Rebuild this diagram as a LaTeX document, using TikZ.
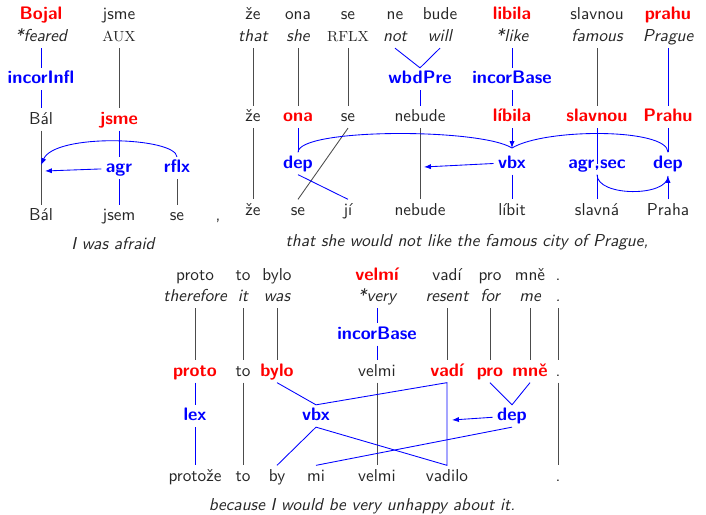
\documentclass[tikz,border=0pt]{standalone}
\usepackage{tikz}
\usetikzlibrary{arrows.meta, calc}

\begin{document}
\begin{tikzpicture}[x=0.58pt, y=-0.58pt, font=\sffamily,
  every node/.style={inner sep=2.5pt, text height=1.5ex, text depth=.25ex},
  wd/.style={text=black!85},
  hd/.style={text=red, font=\fontsize{10.5}{12}\selectfont\sffamily\bfseries},
  gl/.style={text=black!85, font=\sffamily\itshape},
  sc/.style={text=black!85, font=\fontsize{8.5}{10}\selectfont\rmfamily},
  rel/.style={text=blue, font=\fontsize{10.5}{12}\selectfont\sffamily\bfseries},
  ln/.style={draw=black!70, line width=0.5pt},
  bl/.style={draw=blue, line width=0.5pt},
  arr/.style={bl, -{Latex[length=4pt, width=3pt]}}]

\useasboundingbox (0,0) rectangle (706,515);

% Row heights, first sentence
\def\ya{14.5}   % words
\def\yb{37}     % glosses
\def\yc{79}     % incorporation
\def\yd{117}    % base forms
\def\ye{163.5}  % relations
\def\yf{210.5}  % surface forms
\def\yg{242}    % translation
% left block sits a little lower
\def\ydl{119.5}
\def\yel{168}
\def\yfl{216}

% Row heights, second sentence
\def\yA{276}
\def\yB{297}
\def\yC{334.5}
\def\yD{371.5}
\def\yE{416}
\def\yF{476.5}
\def\yG{505.5}

% Bojal jsme
\node[hd] (bojal) at (41,\ya) {Bojal};
\node[gl] (feared) at (41,\yb) {*feared};
\node[rel] (incorInfl) at (41,\yc) {incorInfl};
\node[wd] (bal) at (41,\ydl) {Bál};
\node[wd] (balS) at (41,\yfl) {Bál};
\node[wd] (jsme) at (119,\ya) {jsme};
\node[sc] (aux) at (119,\yb) {AUX};
\node[hd] (jsmeD) at (119,\ydl) {jsme};
\node[rel] (agr) at (119,\yel) {agr};
\node[wd] (jsem) at (119,\yfl) {jsem};
\node[rel] (rflx) at (177,\yel) {rflx};
\node[wd] (seA) at (177,\yfl) {se};
\node[wd] (comma) at (218,\yfl) {,};
\node[gl] (tr1) at (113,245) {I was afraid};

\draw[bl] (feared) -- (incorInfl);
\draw[bl] (incorInfl) -- (bal);
\draw[ln] (bal) -- (balS);
\draw[ln] (aux) -- (jsmeD);
\draw[bl] (jsmeD) -- (agr);
\draw[bl] (agr) -- (jsem);
\draw[ln] (rflx) -- (seA);
\coordinate (balAgr) at (45,171);
\coordinate (balRflx) at (41,165);
\draw[arr] (agr.mid west) -- (balAgr);
\draw[arr] (rflx.north) .. controls (175,137) and (55,133) .. (balRflx);

% ze ona se nebude
\node[wd] (ze) at (253,\ya) {že};
\node[gl] (that) at (253,\yb) {that};
\node[wd] (zeD) at (253,\yd) {že};
\node[wd] (zeS) at (253,\yf) {že};
\node[wd] (ona) at (298,\ya) {ona};
\node[gl] (she) at (298,\yb) {she};
\node[hd] (onaD) at (298,\yd) {ona};
\node[rel] (depA) at (298,\ye) {dep};
\node[wd] (seS) at (298,\yf) {se};
\node[wd] (se) at (348,\ya) {se};
\node[sc] (rflxG) at (348,\yb) {RFLX};
\node[wd] (seD) at (348,\yd) {se};
\node[wd] (ji) at (348,\yf) {jí};
\node[wd] (ne) at (395,\ya) {ne};
\node[gl] (not) at (395,\yb) {not};
\node[wd] (bude) at (440,\ya) {bude};
\node[gl] (will) at (440,\yb) {will};
\node[rel] (wbdPre) at (420,\yc) {wbdPre};
\node[wd] (nebudeD) at (420,\yd) {nebude};
\node[wd] (nebudeS) at (420,\yf) {nebude};

\draw[ln] (that) -- (zeD);
\draw[ln] (zeD) -- (zeS);
\draw[ln] (she) -- (onaD);
\draw[bl] (onaD) -- (depA);
\draw[ln] (rflxG) -- (seD);
\draw[ln] (seD.south) -- (seS.north);
\draw[bl] (depA.south) -- (ji.north);
\draw[bl] (not.south) -- (wbdPre.north) -- (will.south);
\draw[bl] (wbdPre) -- (nebudeD);
\draw[ln] (nebudeD) -- (nebudeS);

% libila slavnou prahu
\node[hd] (libila) at (512,\ya) {libila};
\node[gl] (like) at (512,\yb) {*like};
\node[rel] (incorBaseA) at (512,\yc) {incorBase};
\node[hd] (libilaD) at (512,\yd) {líbila};
\node[rel] (vbxA) at (512,\ye) {vbx};
\node[wd] (libit) at (512,\yf) {líbit};
\node[wd] (slavnou) at (597,\ya) {slavnou};
\node[gl] (famous) at (597,\yb) {famous};
\node[hd] (slavnouD) at (597,\yd) {slavnou};
\node[rel] (agrsec) at (597,\ye) {agr,sec};
\node[wd] (slavna) at (597,\yf) {slavná};
\node[hd] (prahu) at (668,\ya) {prahu};
\node[gl] (prague) at (668,\yb) {Prague};
\node[hd] (prahuD) at (668,\yd) {Prahu};
\node[rel] (depB) at (668,\ye) {dep};
\node[wd] (praha) at (668,\yf) {Praha};
\node[gl] (tr2) at (467,\yg) {that she would not like the famous city of Prague,};

\draw[bl] (like) -- (incorBaseA);
\draw[bl] (incorBaseA) -- (libilaD);
\coordinate (vbxIn) at (512,148);
\draw[arr] (libilaD) -- (vbxIn);
\draw[bl] (depA.north) .. controls (298,128) and (480,128) .. (vbxIn);
\draw[bl] (depB.north) .. controls (668,128) and (545,128) .. (vbxIn);
\coordinate (nebHit) at (424,167);
\draw[arr] (vbxA.west) -- (nebHit);
\draw[bl] (vbxA) -- (libit);
\draw[ln] (famous) -- (slavnouD);
\draw[bl] (slavnouD.south) -- (agrsec.mid);
\draw[bl] (agrsec.south) -- (slavna.north);
\draw[bl] (prague) -- (prahuD);
\draw[bl] (prahuD) -- (depB);
\coordinate (depIn) at (668,176);
\draw[arr] (praha) -- (depIn);
\draw[bl] (agrsec.south) .. controls (597,197) and (668,197) .. (depIn);

% proto to bylo
\node[wd] (proto) at (195,\yA) {proto};
\node[gl] (therefore) at (195,\yB) {therefore};
\node[hd] (protoD) at (195,\yD) {proto};
\node[rel] (lex) at (195,\yE) {lex};
\node[wd] (protoze) at (195,\yF) {protože};
\node[wd] (to) at (243,\yA) {to};
\node[gl] (it) at (243,\yB) {it};
\node[wd] (toD) at (243,\yD) {to};
\node[wd] (toS) at (243,\yF) {to};
\node[wd] (bylo) at (277,\yA) {bylo};
\node[gl] (was) at (277,\yB) {was};
\node[hd] (byloD) at (277,\yD) {bylo};
\node[wd] (by) at (277,\yF) {by};
\node[rel] (vbxB) at (316,\yE) {vbx};
\node[wd] (mi) at (316,\yF) {mi};

% velmi vadi pro mne
\node[hd] (velmi) at (377,\yA) {velmí};
\node[gl] (very) at (377,\yB) {*very};
\node[rel] (incorBaseB) at (377,\yC) {incorBase};
\node[wd] (velmiD) at (377,\yD) {velmi};
\node[wd] (velmiS) at (377,\yF) {velmi};
\node[wd] (vadi) at (447,\yA) {vadí};
\node[gl] (resent) at (447,\yB) {resent};
\node[hd] (vadiD) at (447,\yD) {vadí};
\node[wd] (vadilo) at (447,\yF) {vadilo};
\node[wd] (pro) at (490,\yA) {pro};
\node[gl] (for) at (490,\yB) {for};
\node[hd] (proD) at (490,\yD) {pro};
\node[wd] (mne) at (530,\yA) {mně};
\node[gl] (me) at (530,\yB) {me};
\node[hd] (mneD) at (530,\yD) {mně};
\node[rel] (depC) at (512,\yE) {dep};
\node[wd] (dot) at (558,\yA) {.};
\node[gl] (dotG) at (558,\yB) {.};
\node[wd] (dotD) at (558,\yD) {.};
\node[wd] (dotS) at (558,\yF) {.};
\node[gl] (tr3) at (362,\yG) {because I would be very unhappy about it.};

\draw[ln] (therefore) -- (protoD);
\draw[bl] (protoD) -- (lex);
\draw[bl] (lex) -- (protoze);
\draw[ln] (it) -- (toD);
\draw[ln] (toD) -- (toS);
\draw[ln] (was) -- (byloD);
\draw[bl] (very) -- (incorBaseB);
\draw[bl] (incorBaseB) -- (velmiD);
\draw[ln] (velmiD) -- (velmiS);
\draw[ln] (resent) -- (vadiD);
\draw[ln] (for) -- (proD);
\draw[ln] (me) -- (mneD);
\draw[ln] (dotG) -- (dotD);
\draw[ln] (dotD) -- (dotS);
\draw[bl] (byloD.south) -- (vbxB.north) -- (vadiD.south) -- (vadilo.north)
  -- (vbxB.south) -- (by.north);
\draw[bl] (proD.south) -- (depC.north) -- (mneD.south);
\draw[bl] (mi.north) -- (depC.south);
\coordinate (vadiHit) at (452,420);
\draw[arr] (depC) -- (vadiHit);

\end{tikzpicture}
\end{document}
